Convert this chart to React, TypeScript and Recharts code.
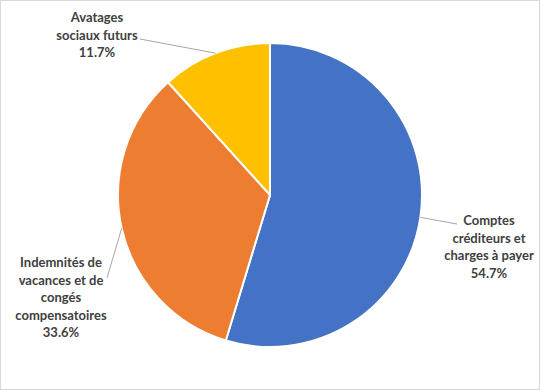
import { PieChart, Pie, Cell } from "recharts";

const categories = [
  "Comptes créditeurs et charges à payer",
  "Indemnités de vacances et de congés compensatoires",
  "Avatages sociaux futurs",
];
const shares = [54.7, 33.6, 11.7];
const labelLines = [
  ["Comptes", "créditeurs et", "charges à payer"],
  ["Indemnités de", "vacances et de", "congés", "compensatoires"],
  ["Avatages", "sociaux futurs"],
];
const colors = ["#4472C4", "#ED7D31", "#FFC000"];

// label block placement relative to the pie centre (text centre x, first baseline y, leader end)
const labelPos = [
  { tx: 219, ty: 30, lx: 187, ly: 29 },
  { tx: -209, ty: 72, lx: -163, ly: 83 },
  { tx: -173, ty: -173, lx: -130, ly: -156 },
];

const data = categories.map((name, i) => ({ name, value: shares[i] }));
const total = shares.reduce((a, b) => a + b, 0);
const RAD = Math.PI / 180;
const LINE_H = 17.5;

function renderLabel(props: any) {
  const { cx, cy, midAngle, outerRadius, index, value } = props;
  const p = labelPos[index];
  const sx = cx + outerRadius * Math.cos(-midAngle * RAD);
  const sy = cy + outerRadius * Math.sin(-midAngle * RAD);
  const lines = [...labelLines[index], `${((value / total) * 100).toFixed(1)}%`];
  return (
    <g key={`lbl-${index}`}>
      <polyline
        points={`${sx},${sy} ${cx + p.lx},${cy + p.ly}`}
        fill="none"
        stroke="#A6A6A6"
        strokeWidth={1}
      />
      <text
        x={cx + p.tx}
        y={cy + p.ty}
        textAnchor="middle"
        fill="#404040"
        fontFamily="Lato, sans-serif"
        fontWeight={700}
        fontSize={13}
      >
        {lines.map((t, i) => (
          <tspan key={i} x={cx + p.tx} dy={i === 0 ? 0 : LINE_H}>
            {t}
          </tspan>
        ))}
      </text>
    </g>
  );
}

export default function App() {
  return (
    <div
      style={{
        position: "absolute",
        left: 0,
        top: 0,
        width: 538,
        height: 388,
        border: "1px solid #D9D9D9",
        background: "#fff",
      }}
    >
      <PieChart width={538} height={388} margin={{ top: 0, right: 0, bottom: 0, left: 0 }}>
        <Pie
          data={data}
          dataKey="value"
          nameKey="name"
          cx={269}
          cy={194}
          outerRadius={152}
          startAngle={90}
          endAngle={-270}
          stroke="#fff"
          strokeWidth={2}
          label={renderLabel}
          labelLine={false}
          isAnimationActive={false}
        >
          {data.map((d, i) => (
            <Cell key={d.name} fill={colors[i]} />
          ))}
        </Pie>
      </PieChart>
    </div>
  );
}
